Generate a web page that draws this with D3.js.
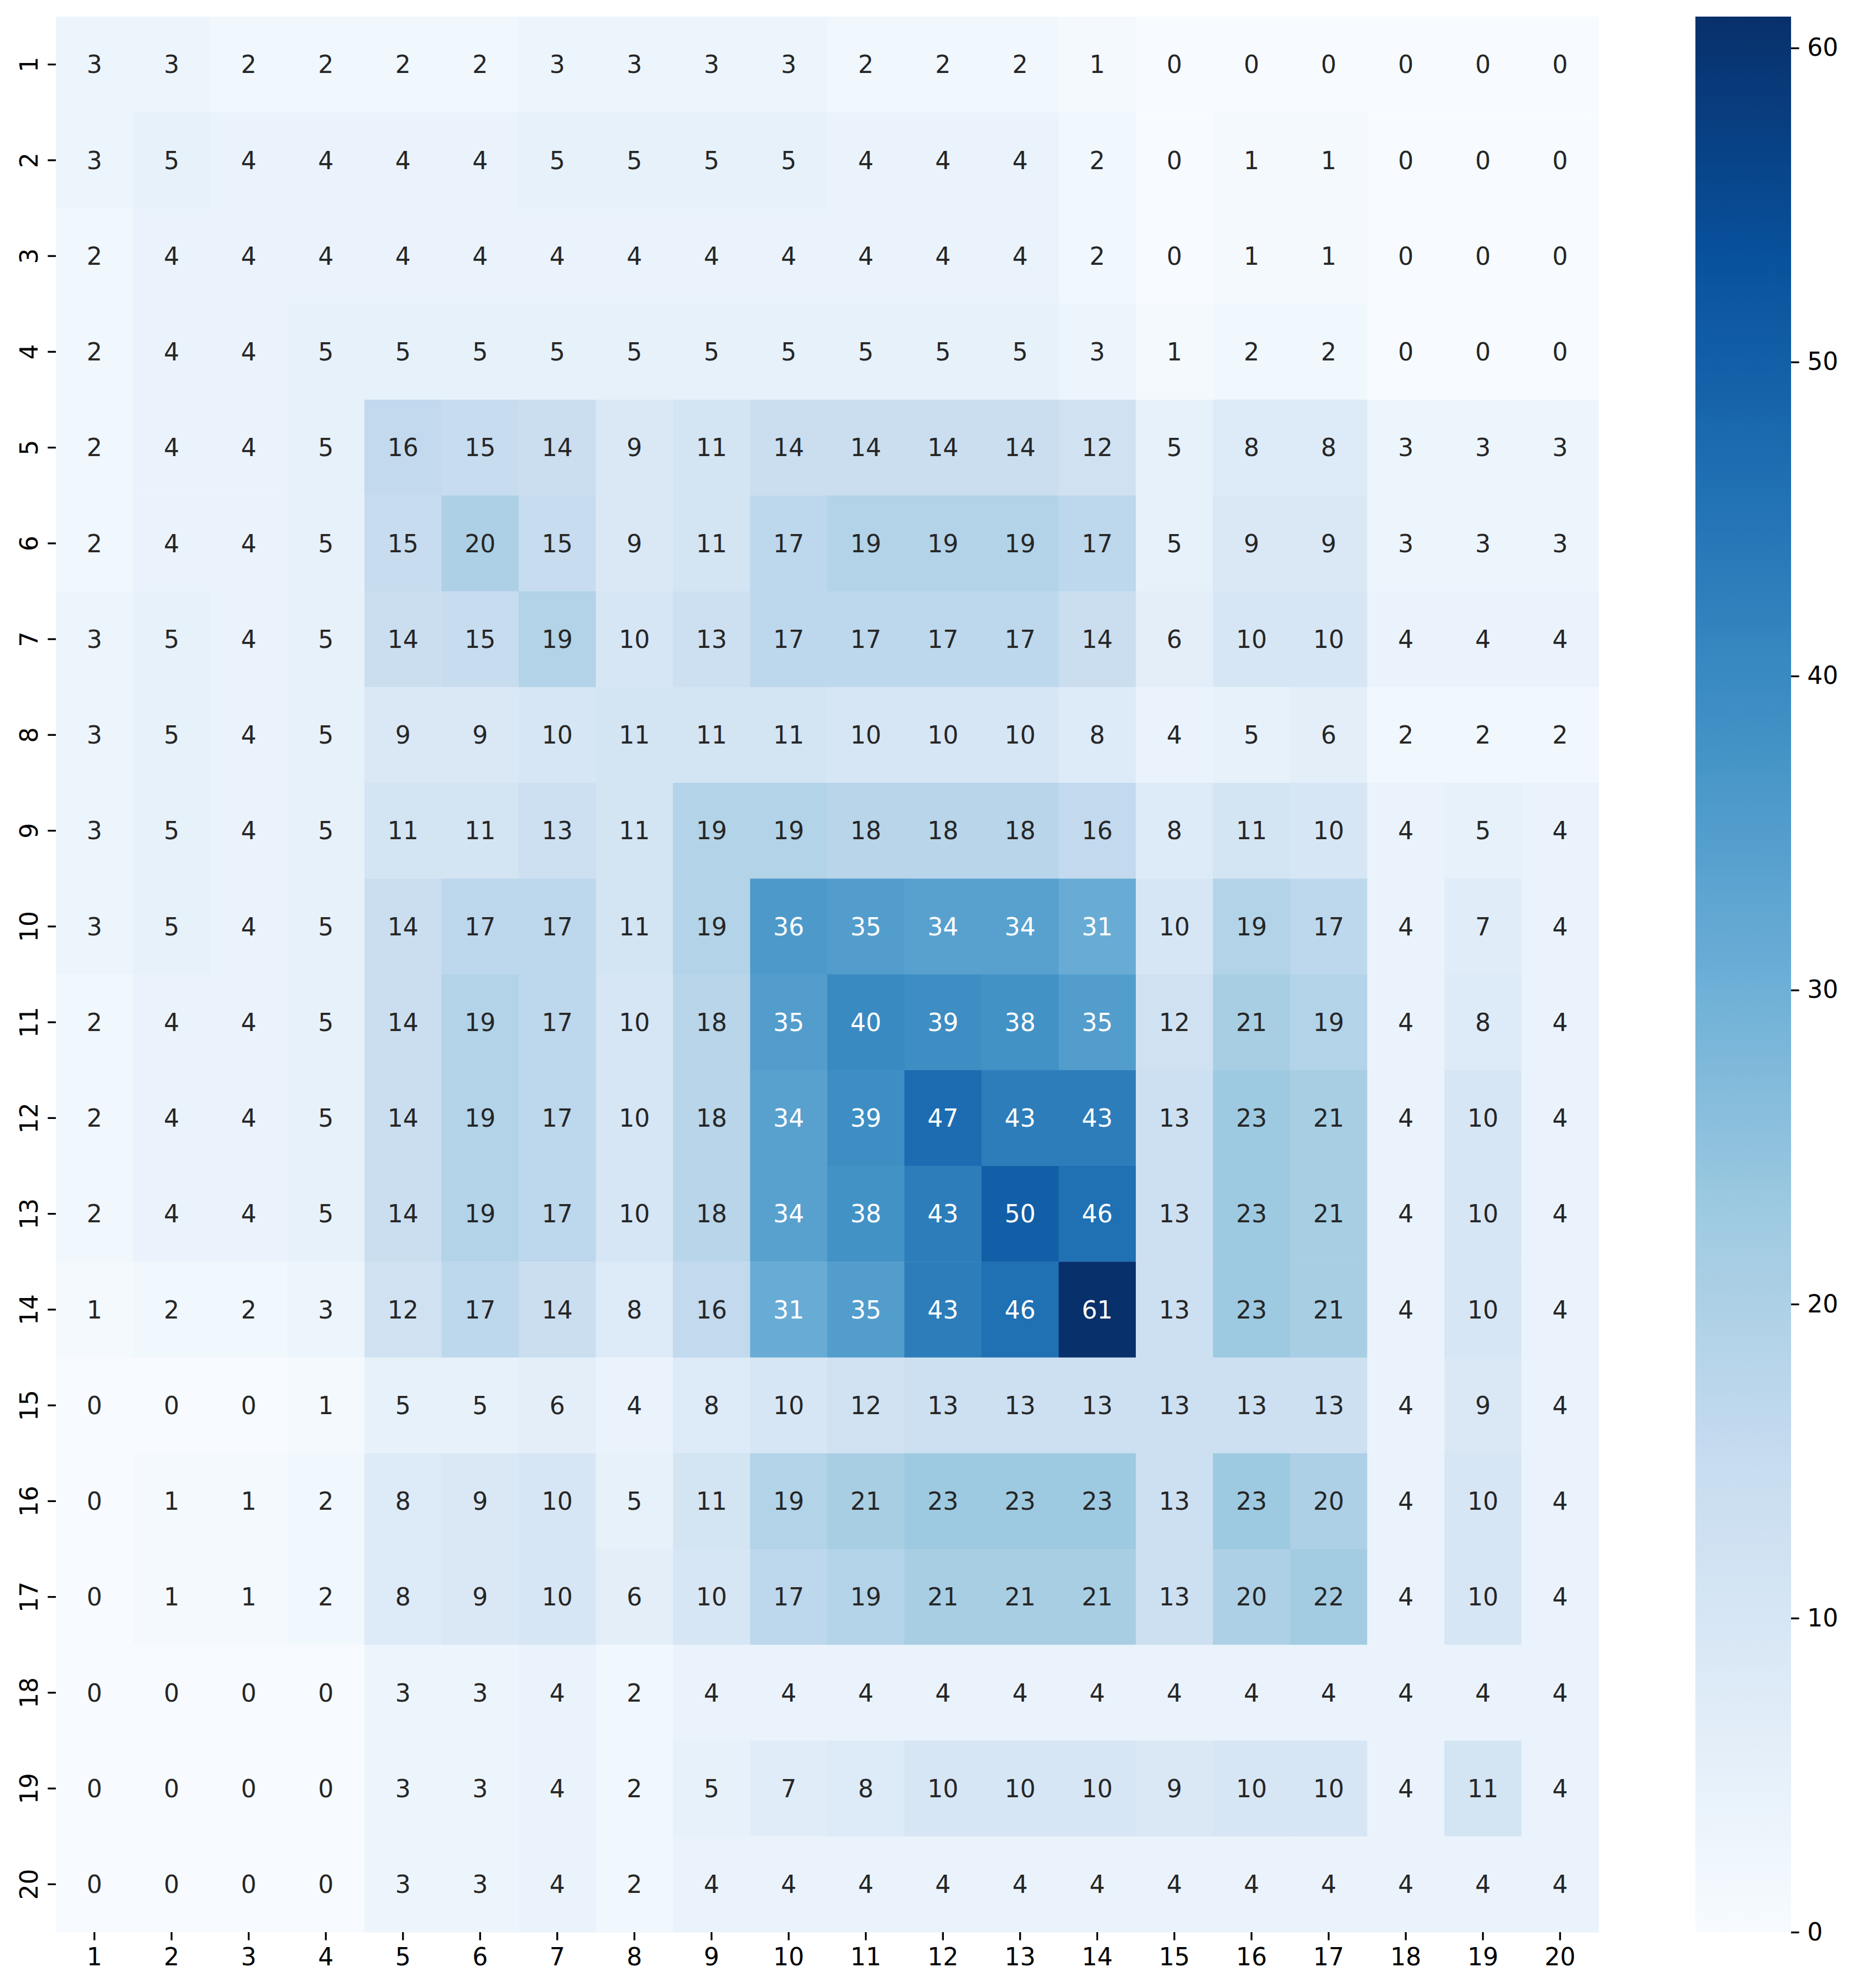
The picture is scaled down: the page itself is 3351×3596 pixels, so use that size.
<!DOCTYPE html>
<html>
<head>
<meta charset="utf-8">
<script src="https://cdn.jsdelivr.net/npm/d3@7"></script>
<style>
  body { margin: 0; background: #fff; }
  text { font-family: 'DejaVu Sans', sans-serif; }
</style>
</head>
<body>
<div id="root"></div>
<script>
// row / column labels
const rowLabels = d3.range(1, 21).map(String)
const colLabels = d3.range(1, 21).map(String)

// cell values, one array per row
const values = [
    [3, 3, 2, 2, 2, 2, 3, 3, 3, 3, 2, 2, 2, 1, 0, 0, 0, 0, 0, 0],
    [3, 5, 4, 4, 4, 4, 5, 5, 5, 5, 4, 4, 4, 2, 0, 1, 1, 0, 0, 0],
    [2, 4, 4, 4, 4, 4, 4, 4, 4, 4, 4, 4, 4, 2, 0, 1, 1, 0, 0, 0],
    [2, 4, 4, 5, 5, 5, 5, 5, 5, 5, 5, 5, 5, 3, 1, 2, 2, 0, 0, 0],
    [2, 4, 4, 5, 16, 15, 14, 9, 11, 14, 14, 14, 14, 12, 5, 8, 8, 3, 3, 3],
    [2, 4, 4, 5, 15, 20, 15, 9, 11, 17, 19, 19, 19, 17, 5, 9, 9, 3, 3, 3],
    [3, 5, 4, 5, 14, 15, 19, 10, 13, 17, 17, 17, 17, 14, 6, 10, 10, 4, 4, 4],
    [3, 5, 4, 5, 9, 9, 10, 11, 11, 11, 10, 10, 10, 8, 4, 5, 6, 2, 2, 2],
    [3, 5, 4, 5, 11, 11, 13, 11, 19, 19, 18, 18, 18, 16, 8, 11, 10, 4, 5, 4],
    [3, 5, 4, 5, 14, 17, 17, 11, 19, 36, 35, 34, 34, 31, 10, 19, 17, 4, 7, 4],
    [2, 4, 4, 5, 14, 19, 17, 10, 18, 35, 40, 39, 38, 35, 12, 21, 19, 4, 8, 4],
    [2, 4, 4, 5, 14, 19, 17, 10, 18, 34, 39, 47, 43, 43, 13, 23, 21, 4, 10, 4],
    [2, 4, 4, 5, 14, 19, 17, 10, 18, 34, 38, 43, 50, 46, 13, 23, 21, 4, 10, 4],
    [1, 2, 2, 3, 12, 17, 14, 8, 16, 31, 35, 43, 46, 61, 13, 23, 21, 4, 10, 4],
    [0, 0, 0, 1, 5, 5, 6, 4, 8, 10, 12, 13, 13, 13, 13, 13, 13, 4, 9, 4],
    [0, 1, 1, 2, 8, 9, 10, 5, 11, 19, 21, 23, 23, 23, 13, 23, 20, 4, 10, 4],
    [0, 1, 1, 2, 8, 9, 10, 6, 10, 17, 19, 21, 21, 21, 13, 20, 22, 4, 10, 4],
    [0, 0, 0, 0, 3, 3, 4, 2, 4, 4, 4, 4, 4, 4, 4, 4, 4, 4, 4, 4],
    [0, 0, 0, 0, 3, 3, 4, 2, 5, 7, 8, 10, 10, 10, 9, 10, 10, 4, 11, 4],
    [0, 0, 0, 0, 3, 3, 4, 2, 4, 4, 4, 4, 4, 4, 4, 4, 4, 4, 4, 4]
]

// colorbar ticks
const cbarTicks = [0, 10, 20, 30, 40, 50, 60]

// matplotlib "Blues" anchor colours
const bluesStops = ['#f7fbff', '#deebf7', '#c6dbef', '#9ecae1', '#6baed6',
                    '#4292c6', '#2171b5', '#08519c', '#08306b']

const W = 3351, H = 3596
const plotL = 101, plotR = 2891, plotT = 30, plotB = 3495
const cbLeft = 3066, cbRight = 3239
const fontSize = 44
const tickLen = 14.6, tickPad = 14.6

const vmin = 0
const vmax = d3.max(values.flat())

const color = d3.scaleLinear()
    .domain(bluesStops.map((c, i) => vmin + (vmax - vmin) * i / (bluesStops.length - 1)))
    .range(bluesStops)
    .interpolate(d3.interpolateRgb)
    .clamp(true)

// seaborn picks annotation colour from relative luminance
const luminance = c => {
    const rgb = d3.rgb(c)
    const lin = v => {
        v = v / 255
        return v <= 0.03928 ? v / 12.92 : Math.pow((v + 0.055) / 1.055, 2.4)
    }
    return 0.2126 * lin(rgb.r) + 0.7152 * lin(rgb.g) + 0.0722 * lin(rgb.b)
}

const x = d3.scaleBand().domain(colLabels).range([plotL, plotR])
const y = d3.scaleBand().domain(rowLabels).range([plotT, plotB])

const svg = d3.select('#root').append('svg')
    .attr('width', W)
    .attr('height', H)

const cells = []
values.forEach((row, i) => row.forEach((v, j) => cells.push({ r: rowLabels[i], c: colLabels[j], v })))

// heatmap cells
svg.append('g').selectAll('rect')
    .data(cells)
    .enter().append('rect')
    .attr('x', d => x(d.c))
    .attr('y', d => y(d.r))
    .attr('width', x.bandwidth() + 0.5)
    .attr('height', y.bandwidth() + 0.5)
    .attr('fill', d => color(d.v))

// annotations
svg.append('g').selectAll('text')
    .data(cells)
    .enter().append('text')
    .attr('x', d => x(d.c) + x.bandwidth() / 2)
    .attr('y', d => y(d.r) + y.bandwidth() / 2)
    .attr('text-anchor', 'middle')
    .attr('dy', '0.36em')
    .style('font-size', fontSize + 'px')
    .style('fill', d => luminance(color(d.v)) > 0.408 ? '#262626' : '#ffffff')
    .text(d => d.v)

// x axis
const xAxis = svg.append('g')
    .attr('transform', `translate(0,${plotB})`)
    .call(d3.axisBottom(x).tickSize(tickLen).tickPadding(tickPad))
xAxis.select('.domain').remove()
xAxis.selectAll('line').attr('stroke', '#000').attr('stroke-width', 3.3)
xAxis.selectAll('text')
    .attr('fill', '#000')
    .attr('dy', '0.71em')
    .style('font-size', fontSize + 'px')
    .style('font-family', "'DejaVu Sans', sans-serif")

// y axis, labels rotated
const yAxis = svg.append('g')
    .attr('transform', `translate(${plotL},0)`)
    .call(d3.axisLeft(y).tickSize(tickLen).tickPadding(tickPad))
yAxis.select('.domain').remove()
yAxis.selectAll('line').attr('stroke', '#000').attr('stroke-width', 3.3)
yAxis.selectAll('text')
    .attr('fill', '#000')
    .attr('x', null)
    .attr('dy', null)
    .attr('text-anchor', 'middle')
    .attr('transform', `translate(${-tickLen - tickPad - 4},0) rotate(-90)`)
    .style('font-size', fontSize + 'px')
    .style('font-family', "'DejaVu Sans', sans-serif")

// colorbar
const cb = d3.scaleLinear().domain([vmin, vmax]).range([plotB, plotT])

const grad = svg.append('defs').append('linearGradient')
    .attr('id', 'cbar')
    .attr('x1', 0).attr('y1', 1)
    .attr('x2', 0).attr('y2', 0)
grad.selectAll('stop')
    .data(d3.range(vmin, vmax + 0.001, 0.5))
    .enter().append('stop')
    .attr('offset', d => (d - vmin) / (vmax - vmin))
    .attr('stop-color', d => color(d))

svg.append('rect')
    .attr('x', cbLeft)
    .attr('y', plotT)
    .attr('width', cbRight - cbLeft)
    .attr('height', plotB - plotT)
    .attr('fill', 'url(#cbar)')

const cbAxis = svg.append('g')
    .attr('transform', `translate(${cbRight},0)`)
    .call(d3.axisRight(cb).tickValues(cbarTicks).tickSize(tickLen).tickPadding(tickPad))
cbAxis.select('.domain').remove()
cbAxis.selectAll('line').attr('stroke', '#000').attr('stroke-width', 3.3)
cbAxis.selectAll('text')
    .attr('fill', '#000')
    .style('font-size', fontSize + 'px')
    .style('font-family', "'DejaVu Sans', sans-serif")
</script>
</body>
</html>
